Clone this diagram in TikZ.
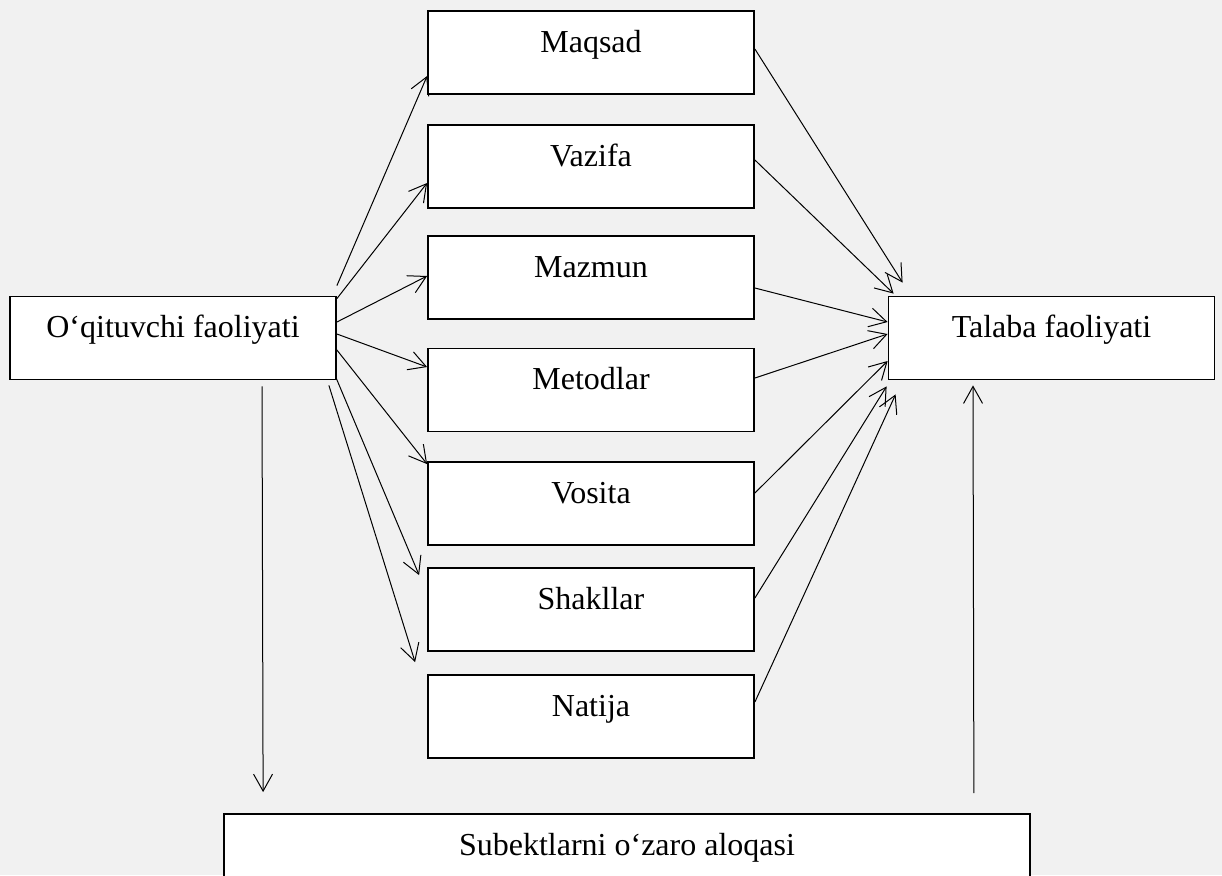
\documentclass[tikz,border=0pt]{standalone}
\usepackage{fontspec}
\setmainfont{Liberation Serif}
\usetikzlibrary{positioning, arrows.meta}
\definecolor{bggray}{RGB}{241,241,241}

\begin{document}
\begin{tikzpicture}[x=0.5pt, y=-0.5pt, on grid,
    >={Straight Barb[length=8.5pt, width=9.5pt]},
    block/.style={draw, line width=0.9pt, fill=white, inner sep=0pt,
      minimum width=163pt, text height=20.5pt, text depth=21pt,
      font=\fontsize{16}{19}\selectfont},
    link/.style={->, line width=0.5pt}]
    \useasboundingbox (0,0) rectangle (1222,875);
    \fill[bggray] (0,0) rectangle (1222,875);
    \clip (0,0) rectangle (1222,875);

    % Define blocks
    \node[block] (teacher) at (173,338) {O‘qituvchi faoliyati};
    \node[block] (maqsad) at (591,52.5) {Maqsad};
    \node[block] (vazifa) [below=57pt of maqsad] {Vazifa};
    \node[block] (mazmun) [below=55.5pt of vazifa] {Mazmun};
    \node[block] (metodlar) [below=56.25pt of mazmun] {Metodlar};
    \node[block] (vosita) [below=56.75pt of metodlar] {Vosita};
    \node[block] (shakllar) [below=53pt of vosita] {Shakllar};
    \node[block] (natija) [below=53.5pt of shakllar] {Natija};
    \node[block] (talaba) at (1051.5,338) {Talaba faoliyati};
    \node[block, minimum width=403pt] (aloqa) at (627,855.5) {Subektlarni o‘zaro aloqasi};

    % Define arrows
    \path[link]
    ([yshift=5pt]teacher.north east) edge ([yshift=-11.75pt]maqsad.west)
    ([yshift=-1.5pt]teacher.north east) edge ([yshift=-8.25pt]vazifa.west)
    ([yshift=8pt]teacher.east) edge ([yshift=0.75pt]mazmun.west)
    ([yshift=2pt]teacher.east) edge ([yshift=11.5pt]metodlar.west)
    ([yshift=-6pt]teacher.east) edge ([yshift=-1.5pt]vosita.north west)
    ([shift={(-0.5pt,1.5pt)}]teacher.south east) edge ([shift={(-4pt,-4pt)}]shakllar.north west)
    ([shift={(-4pt,-2.5pt)}]teacher.south east) edge ([shift={(-6pt,6pt)}]natija.north west);

    \path[link]
    ([yshift=1.75pt]maqsad.east) edge ([shift={(7.5pt,6.5pt)}]talaba.north west)
    ([yshift=3.25pt]vazifa.east) edge ([shift={(3pt,1pt)}]talaba.north west)
    ([yshift=-5.25pt]mazmun.east) edge ([yshift=8pt]talaba.west)
    ([yshift=6pt]metodlar.east) edge ([yshift=2pt]talaba.west)
    ([yshift=5.25pt]vosita.east) edge ([yshift=-11.5pt]talaba.west)
    ([yshift=5.75pt]shakllar.east) edge ([shift={(-0.5pt,-3pt)}]talaba.south west)
    ([yshift=7.25pt]natija.east) edge ([shift={(4pt,-7pt)}]talaba.south west);

    \path[link]
    ([shift={(44.5pt,-3pt)}]teacher.south) edge ([shift={(20pt,10.5pt)}]aloqa.north west)
    ([shift={(-28.5pt,10pt)}]aloqa.north east) edge ([shift={(-39.25pt,-2.5pt)}]talaba.south);
\end{tikzpicture}
\end{document}
